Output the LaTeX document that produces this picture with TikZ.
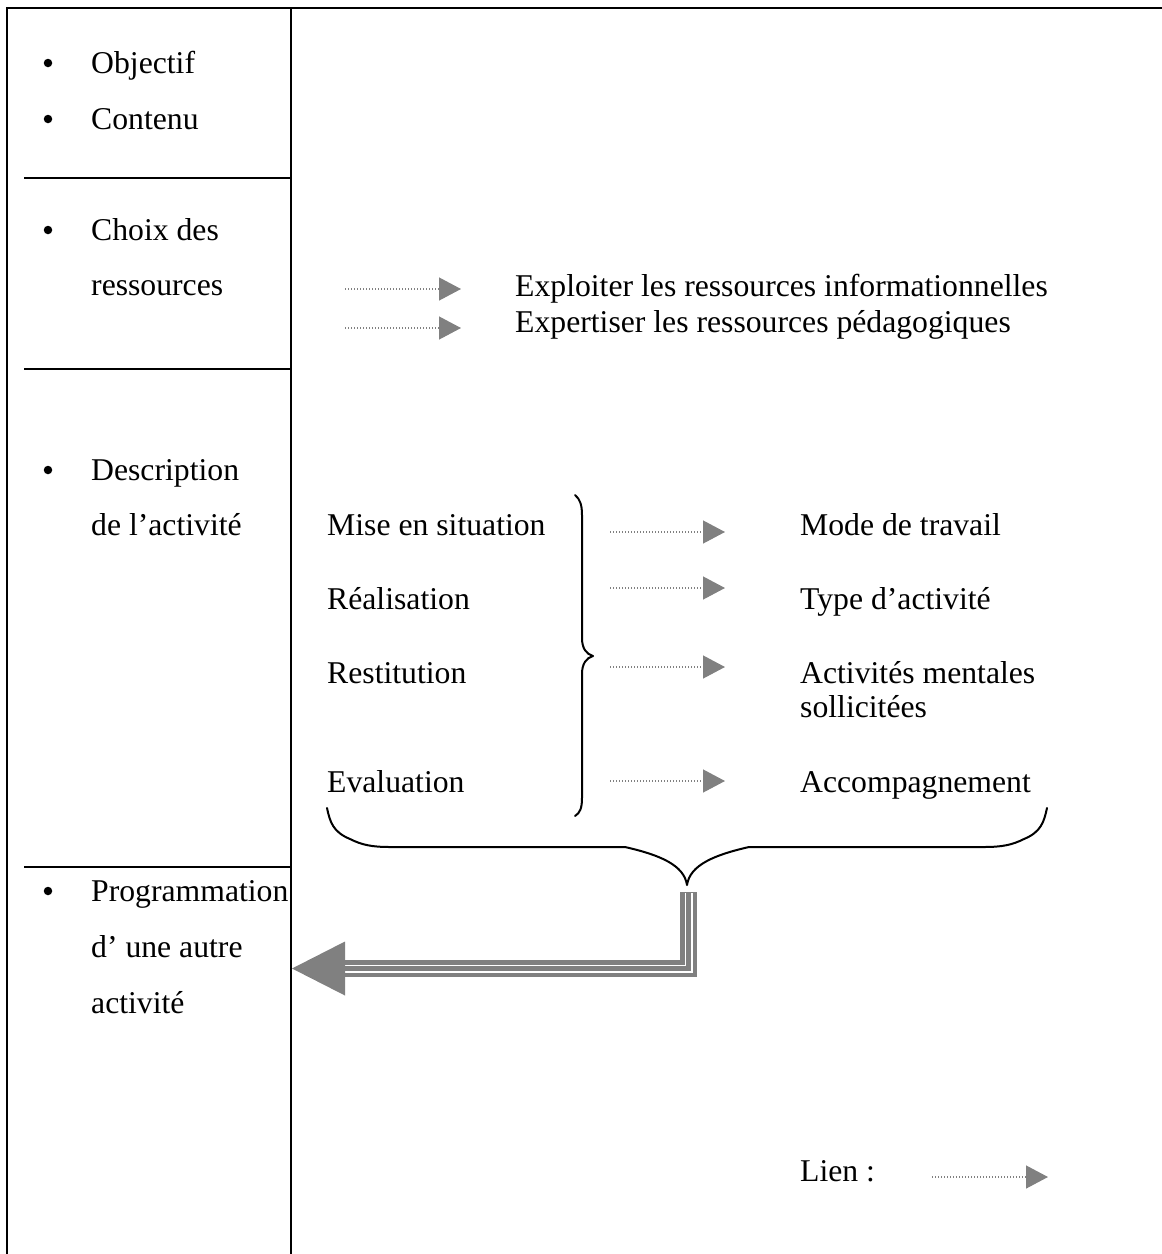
\documentclass[tikz,border=0pt]{standalone}
\usepackage{fontspec}
\setmainfont{Liberation Serif}
\usetikzlibrary{arrows.meta}
\definecolor{linkgray}{HTML}{808080}
\tikzset{
  txt/.style={anchor=base west, inner sep=0pt, font=\fontsize{31.7}{38}\selectfont},
  bulletdot/.style={circle, fill=black, inner sep=0pt, minimum size=8.5pt},
  rule/.style={line width=2pt, black},
  brace/.style={line width=2pt, black, line cap=round, line join=round},
  link/.style={linkgray, line width=1.3pt, dash pattern=on 1.3pt off 1.7pt,
    -{Triangle[length=22pt,width=23pt]}},
}
\begin{document}
\begin{tikzpicture}[x=1pt,y=-1pt]
\useasboundingbox (0,0) rectangle (1162,1254);

% frame of the table
\draw[rule] (1162,8) -- (7,8) -- (7,1254);
\draw[rule] (291,8) -- (291,1254);
\draw[rule] (24,178) -- (291,178);
\draw[rule] (24,369) -- (291,369);
\draw[rule] (24,867) -- (291,867);

% left column
\node[bulletdot] (b1) at (48,63) {};
\node[txt] (objectif) at (91,73) {Objectif};
\node[bulletdot] (b2) at (48,119) {};
\node[txt] (contenu) at (91,129) {Contenu};
\node[bulletdot] (b3) at (48,230) {};
\node[txt] (choix) at (91,240) {Choix des};
\node[txt] (ressources) at (91,295) {ressources};
\node[bulletdot] (b4) at (48,470) {};
\node[txt] (description) at (91,480) {Description};
\node[txt] (delact) at (91,535) {de l’activité};
\node[bulletdot] (b5) at (48,891) {};
\node[txt] (programmation) at (91,901) {Programmation};
\node[txt] (uneautre) at (91,957) {d' une autre};
\node[txt] (activite) at (91,1013) {activité};

% resources
\coordinate (r1s) at (345,289);
\coordinate (r1e) at (461,289);
\coordinate (r2s) at (345,328);
\coordinate (r2e) at (461,328);
\draw[link] (r1s) -- (r1e);
\draw[link] (r2s) -- (r2e);
\node[txt] (exploiter) at (515,296) {Exploiter les ressources informationnelles};
\node[txt] (expertiser) at (515,332) {Expertiser les ressources pédagogiques};

% phases of the activity
\node[txt] (mise) at (327,535) {Mise en situation};
\node[txt] (realisation) at (327,609) {Réalisation};
\node[txt] (restitution) at (327,683) {Restitution};
\node[txt] (evaluation) at (327,792) {Evaluation};

% right brace grouping the phases
\coordinate (rbtop) at (575,495);
\coordinate (rbtip) at (593,656);
\coordinate (rbbot) at (575,816);
\draw[brace] (rbtop) .. controls (580,499) and (582,505) .. (582,515)
  -- (582,638) .. controls (582,648) and (586,654) .. (rbtip)
  .. controls (586,658) and (582,664) .. (582,674)
  -- (582,798) .. controls (582,808) and (580,813) .. (rbbot);

% characteristics
\coordinate (c1s) at (610,532);
\coordinate (c1e) at (725,532);
\coordinate (c2s) at (610,588);
\coordinate (c2e) at (725,588);
\coordinate (c3s) at (610,667);
\coordinate (c3e) at (725,667);
\coordinate (c4s) at (610,781);
\coordinate (c4e) at (725,781);
\draw[link] (c1s) -- (c1e);
\draw[link] (c2s) -- (c2e);
\draw[link] (c3s) -- (c3e);
\draw[link] (c4s) -- (c4e);
\node[txt] (mode) at (800,535) {Mode de travail};
\node[txt] (type) at (800,609) {Type d’activité};
\node[txt] (mentales) at (800,683) {Activités mentales};
\node[txt] (sollicitees) at (800,717) {sollicitées};
\node[txt] (accomp) at (800,792) {Accompagnement};

% lower brace gathering the whole description
\coordinate (lbl) at (327,808);
\coordinate (lbtip) at (687,885);
\coordinate (lbr) at (1047,808);
\draw[brace] (lbl) .. controls (330,822) and (333,832) .. (350,839)
  .. controls (362,845) and (372,847) .. (390,847)
  -- (625,847) .. controls (660,855) and (684,865) .. (lbtip)
  .. controls (690,865) and (714,855) .. (749,847)
  -- (984,847) .. controls (1002,847) and (1012,845) .. (1024,839)
  .. controls (1041,832) and (1044,822) .. (lbr);

% wide return arrow towards the next activity
\coordinate (dstart) at (688.5,892);
\coordinate (dbend) at (688.5,968.5);
\coordinate (dbase) at (345,968.5);
\coordinate (dtip) at (292,968.5);
\draw[linkgray, line width=17pt, line join=miter] (dstart) -- (dbend) -- (dbase);
\draw[white, line width=8pt, line join=miter] ([yshift=-1pt]dstart) -- (dbend) -- (dbase);
\draw[linkgray, line width=5pt, line join=miter] ([yshift=-1pt]dstart) -- (dbend) -- (dbase);
\fill[linkgray] (dtip) -- ([yshift=-27pt]dbase) -- ([yshift=27pt]dbase) -- cycle;

% legend
\node[txt] (lien) at (800,1181) {Lien :};
\coordinate (ls) at (932,1177);
\coordinate (le) at (1048,1177);
\draw[link] (ls) -- (le);
\end{tikzpicture}
\end{document}
